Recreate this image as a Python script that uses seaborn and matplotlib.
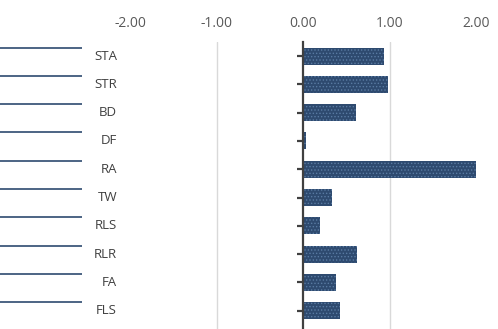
import matplotlib
matplotlib.use("Agg")
import matplotlib.pyplot as plt
import seaborn as sns
import pandas as pd

categories = ["STA", "STR", "BD", "DF", "RA", "TW", "RLS", "RLR", "FA", "FLS"]
values = [0.935, 0.985, 0.615, 0.04, 2.01, 0.33, 0.195, 0.63, 0.38, 0.43]
xticks = [-2.0, -1.0, 0.0, 1.0, 2.0]

sns.set_theme(style="white")
plt.rcParams['font.family'] = ['Open Sans', 'DejaVu Sans']
plt.rcParams['hatch.linewidth'] = 0.6

df = pd.DataFrame({"cat": categories, "val": values})

W, H = 498, 329
fig = plt.figure(figsize=(W / 100, H / 100), dpi=100)
# plot area in pixels
x0, x1 = 130, 476
y_top = 42
ax = fig.add_axes([x0 / W, 0, (x1 - x0) / W, (H - y_top) / H])

sns.barplot(data=df, x="val", y="cat", orient="h", order=categories,
            color="#2E4A6F", width=0.6, ax=ax, saturation=1)
for p in ax.patches:
    p.set_hatch(".....")
    p.set_edgecolor("#5A7BA3")
    p.set_linewidth(0)

ax.set_xlim(-2, 2.0)
ax.set_ylim(9.65, -0.5)
ax.xaxis.tick_top()
ax.set_xticks(xticks)
ax.set_xticklabels([f"{t:.2f}" for t in xticks], fontsize=10, color="#595959")
ax.tick_params(axis="x", length=0, pad=8)
ax.set_xlabel("")
ax.set_ylabel("")

for g in [-1.0, 1.0]:
    ax.axvline(g, color="#D9D9D9", lw=1, zorder=0)

for s in ["top", "right", "bottom"]:
    ax.spines[s].set_visible(False)
ax.spines["left"].set_position(("data", 0))
ax.spines["left"].set_color("#404040")
ax.spines["left"].set_linewidth(1.6)
ax.tick_params(axis="y", direction="out", length=4, width=1.6, color="#404040", left=True)
ax.set_yticklabels([])

for i, c in enumerate(categories):
    ax.text(-2.15, i, c, ha="right", va="center", fontsize=9.5, color="#404040", clip_on=False)
    ax.plot([-2 - 130 / 86.5, -2 - 48 / 86.5], [i - 0.3, i - 0.3], color="#2E4A6F", lw=1.2,
            clip_on=False, solid_capstyle="butt")

fig.savefig("out.png", dpi=100)
